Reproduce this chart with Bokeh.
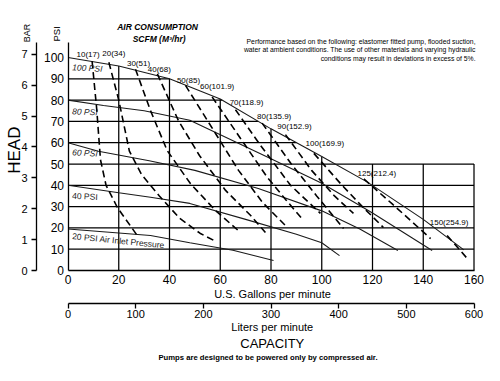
import numpy as np
from bokeh.plotting import figure
from bokeh.models import Range1d, LinearAxis, FixedTicker, Label, ColumnDataSource
from bokeh.core.properties import value
from bokeh.embed import file_html
from bokeh.resources import INLINE

FONT = "Liberation Sans"

# ---- Air inlet pressure curves: flow (US GPM) vs discharge head (PSI) ----
p100_gpm = [0, 20, 40, 60, 80, 100, 118, 140, 156]
p100_psi = [100, 96, 90, 80.5, 66.5, 53.5, 41.5, 24, 9.7]
p80_gpm = [0, 14, 30, 48, 80, 100, 120, 143.5]
p80_psi = [80, 77.5, 75, 70.5, 52.5, 41, 27, 9.4]
p60_gpm = [0, 12, 32, 50, 75, 100, 115, 130]
p60_psi = [60, 56, 51.5, 47, 38.5, 28, 19.5, 9.4]
p40_gpm = [0, 20, 32.5, 48, 70, 90, 100, 107]
p40_psi = [40, 36.5, 34.4, 31.5, 24, 17, 13, 7]
p20_gpm = [0, 32.5, 48, 65, 81]
p20_psi = [19.5, 16.4, 13, 9.5, 4.7]

pressure_names = ["100 PSI", "80 PSI", "60 PSI", "40 PSI", "20 PSI Air Inlet Pressure"]

# ---- Air consumption curves, SCFM (M3/hr) ----
scfm_names = ["10(17)", "20(34)", "30(51)", "40(68)", "50(85)", "60(101.9)", "70(118.9)",
              "80(135.9)", "90(152.9)", "100(169.9)", "125(212.4)", "150(254.9)"]
d10_gpm = [9.5, 11.3, 12.8, 15, 19.4, 27.3];        d10_psi = [98.3, 76, 52, 40, 29.7, 16.4]
d20_gpm = [16.1, 20, 24.2, 29, 36, 44, 52, 58];     d20_psi = [97.8, 80, 56, 45, 35, 24.5, 17.5, 13.8]
d30_gpm = [26.6, 32.5, 39.1, 48.3, 58.1, 68];       d30_psi = [94.5, 75.1, 56.3, 40.7, 28.2, 17.8]
d40_gpm = [35.2, 43.5, 51.8, 62.1, 72, 77.8];       d40_psi = [92.3, 70.4, 54, 37.6, 25.8, 17.8]
d50_gpm = [46.3, 56.9, 67.2, 76.7, 85.7];           d50_psi = [86.9, 66.7, 47, 31.9, 21.1]
d60_gpm = [56.8, 68, 78.5, 86, 92.8];               d60_psi = [81.5, 62, 43.8, 33, 23.5]
d70_gpm = [66, 75.9, 87.7, 99.5];                   d70_psi = [75.5, 58.7, 40, 26.8]
d80_gpm = [76.5, 88, 98, 108.6];                    d80_psi = [69.2, 50, 35, 19.7]
d90_gpm = [85.7, 96, 105, 112.5];                   d90_psi = [63.8, 47, 35, 26.8]
d100_gpm = [96.9, 108, 116, 124.3];                 d100_psi = [55, 40, 30, 20.2]
d125_gpm = [116.6, 128, 142.9];                     d125_psi = [43, 31, 15]
d150_gpm = [149.4, 157];                            d150_psi = [16.4, 6.1]

# ---- Axis ticks ----
psi_ticks = [0, 10, 20, 30, 40, 50, 60, 70, 80, 90, 100]
bar_ticks = [0, 1, 2, 3, 4, 5, 6, 7]
gpm_ticks = [0, 20, 40, 60, 80, 100, 120, 140, 160]
lpm_ticks = [0, 100, 200, 300, 400, 500, 600]

PSI_PER_BAR = 14.5038
LPM_PER_GPM = 600 / 160
GPM_MAX, PSI_TOP = 160, 107

# The frame covers the whole canvas; axes are pinned at fixed data locations.
W, H = 484, 365
PX_PER_GPM, PX_PER_PSI = 2.5375, 2.13
ORIGIN_X, ORIGIN_Y = 67.5, 270.0
X0, X1 = -ORIGIN_X / PX_PER_GPM, (W - ORIGIN_X) / PX_PER_GPM
Y0, Y1 = (ORIGIN_Y - H) / PX_PER_PSI, ORIGIN_Y / PX_PER_PSI

p = figure(width=W, height=H, x_range=Range1d(X0, X1), y_range=Range1d(Y0, Y1),
           x_axis_type=None, y_axis_type=None, output_backend="svg", toolbar_location=None,
           min_border=0)
p.outline_line_color = None
p.background_fill_color = "white"
p.border_fill_color = "white"
p.extra_y_ranges = {"bar": Range1d(Y0 / PSI_PER_BAR, Y1 / PSI_PER_BAR)}
p.extra_x_ranges = {"lpm": Range1d(X0 * LPM_PER_GPM, X1 * LPM_PER_GPM)}

def style_axis(ax, size):
    ax.major_label_text_font = FONT
    ax.major_label_text_font_size = size
    ax.major_label_text_color = "black"
    ax.axis_line_color = "black"
    ax.axis_line_width = 1.3
    ax.major_tick_line_color = "black"
    ax.major_tick_line_width = 1.3
    ax.minor_tick_line_color = None

psi_ax = LinearAxis(ticker=FixedTicker(ticks=psi_ticks), fixed_location=0, bounds=(0, PSI_TOP),
                    major_tick_out=0, major_tick_in=0, major_label_standoff=4)
style_axis(psi_ax, "12px")
p.add_layout(psi_ax, "left")

bar_ax = LinearAxis(y_range_name="bar", ticker=FixedTicker(ticks=bar_ticks), fixed_location=-12.41,
                    bounds=(0, PSI_TOP / PSI_PER_BAR), major_tick_out=5, major_tick_in=0,
                    major_label_standoff=4)
style_axis(bar_ax, "11px")
p.add_layout(bar_ax, "left")

gpm_ax = LinearAxis(ticker=FixedTicker(ticks=gpm_ticks), fixed_location=0, bounds=(0, GPM_MAX),
                    major_tick_out=0, major_tick_in=0, major_label_standoff=4)
style_axis(gpm_ax, "12px")
p.add_layout(gpm_ax, "below")

lpm_ax = LinearAxis(x_range_name="lpm", ticker=FixedTicker(ticks=lpm_ticks), fixed_location=-15.35,
                    bounds=(0, GPM_MAX * LPM_PER_GPM), major_tick_out=5, major_tick_in=0,
                    major_label_standoff=2)
style_axis(lpm_ax, "11px")
p.add_layout(lpm_ax, "below")

# ---- Grid, clipped to the region under the 100 PSI curve plus the 0-50 PSI box ----
def head_at(g):
    return float(np.interp(g, p100_gpm, p100_psi))

def flow_at(h):
    return float(np.interp(h, p100_psi[::-1], p100_gpm[::-1]))

gx, gy = [], []
for h in psi_ticks[1:-1]:
    xe = GPM_MAX if h <= 50 else flow_at(h)
    gx.append([0, xe]); gy.append([h, h])
for g in gpm_ticks[1:]:
    ye = max(50, head_at(g)) if g < p100_gpm[-1] else 50
    gx.append([g, g]); gy.append([0, ye])
p.multi_line(gx, gy, line_color="black", line_width=1.25)

# ---- Pressure curves ----
for gx_, gy_ in [(p100_gpm, p100_psi), (p80_gpm, p80_psi), (p60_gpm, p60_psi),
                 (p40_gpm, p40_psi), (p20_gpm, p20_psi)]:
    p.line(gx_, gy_, line_color="#1a1a1a", line_width=1.1)

# ---- Air consumption dashed curves ----
dashed = [(d10_gpm, d10_psi), (d20_gpm, d20_psi), (d30_gpm, d30_psi), (d40_gpm, d40_psi),
          (d50_gpm, d50_psi), (d60_gpm, d60_psi), (d70_gpm, d70_psi), (d80_gpm, d80_psi),
          (d90_gpm, d90_psi), (d100_gpm, d100_psi), (d125_gpm, d125_psi), (d150_gpm, d150_psi)]
for dx_, dy_ in dashed:
    p.line(dx_, dy_, line_color="black", line_width=1.6, line_dash="7 4")

lab_xoff = [-4, 5, 3, 2, 3, 5, 11, 12, 9, 11, 13, 2]
lab_yoff = [-7, -9, -6, -4, -5, -10, -7, -7, -8, -10, -5, -13]
src = ColumnDataSource(dict(x=[d[0][0] for d in dashed], y=[d[1][0] for d in dashed],
                            t=scfm_names, xo=lab_xoff, yo=lab_yoff))
p.text(x="x", y="y", text="t", x_offset="xo", y_offset="yo", source=src,
       text_font=value(FONT), text_font_size="8px", text_align="center",
       text_baseline="middle", text_color="black")

# ---- Pressure labels ----
lab_y = [95.4, 74.8, 55.5, 35.1, 16.2]
for i, name in enumerate(pressure_names):
    p.text(x=[1.65], y=[lab_y[i]], text=[name], text_font=value(FONT),
           text_font_size="8.5px", text_font_style="italic" if i < 3 else "normal",
           text_align="left", text_baseline="middle", text_color="#222222",
           angle=-0.05 if i < 4 else -0.1)

# ---- Free texts ----
def add_label(x, y, text, size, style="normal", align="center", angle=0.0):
    p.add_layout(Label(x=x, y=y, text=text, text_font=FONT, text_font_size=size,
                       text_font_style=style, text_align=align, text_baseline="middle",
                       text_color="black", angle=angle))

add_label(35.3, 114.1, "AIR CONSUMPTION", "8.5px", "bold italic")
add_label(35.9, 108.7, "SCFM (M\u00b3/hr)", "8.5px", "bold italic")
add_label(-16.1, 111.5, "BAR", "9px", angle=np.pi / 2)
add_label(-4.7, 111.1, "PSI", "9.5px", angle=np.pi / 2)
add_label(-21.2, 56.5, "HEAD", "17px", angle=np.pi / 2)
add_label(160.6, 107.6, "Performance based on the following: elastomer fitted pump, flooded suction,", "6.8px", align="right")
add_label(160.6, 103.6, "water at ambient conditions. The use of other materials and varying hydraulic", "6.8px", align="right")
add_label(160.6, 99.7, "conditions may result in deviations in excess of 5%.", "6.8px", align="right")
add_label(80.6, -10.8, "U.S. Gallons per minute", "11px")
add_label(80.5, -26.6, "Liters per minute", "11px")
add_label(80.5, -34.3, "CAPACITY", "13px")
add_label(78.8, -40.85, "Pumps are designed to be powered only by compressed air.", "7.7px", "bold")

open("out.html", "w").write(file_html(p, INLINE))
